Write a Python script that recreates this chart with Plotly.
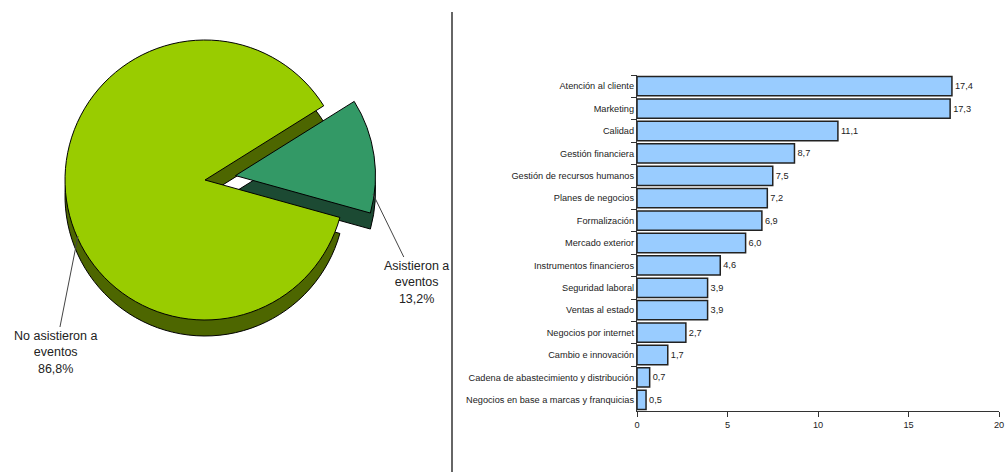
import plotly.graph_objects as go

# Pie data
pie_labels = ["Asistieron a eventos", "No asistieron a eventos"]
pie_values = [13.2, 86.8]

# Bar data
categories = ["Atención al cliente", "Marketing", "Calidad", "Gestión financiera",
              "Gestión de recursos humanos", "Planes de negocios", "Formalización",
              "Mercado exterior", "Instrumentos financieros", "Seguridad laboral",
              "Ventas al estado", "Negocios por internet", "Cambio e innovación",
              "Cadena de abastecimiento y distribución",
              "Negocios en base a marcas y franquicias"]
values = [17.4, 17.3, 11.1, 8.7, 7.5, 7.2, 6.9, 6.0, 4.6, 3.9, 3.9, 2.7, 1.7, 0.7, 0.5]
x_ticks = [0, 5, 10, 15, 20]

W, H = 1005, 472
FONT = "Liberation Sans, Arial, sans-serif"

def px_x(v):
    return v / W

def px_y(v):
    return 1 - v / H

fig = go.Figure()

# 3D-like pie: dark depth layer behind, shifted down
cx, cy, r, pull = 205, 180, 140, 0.22
half = r * (1 + pull)
depth = 16
common = dict(labels=pie_labels, values=pie_values, sort=False, direction="clockwise",
              rotation=58, pull=[pull, 0], textinfo="none", hoverinfo="label+percent",
              showlegend=False)
fig.add_trace(go.Pie(**common,
                     marker=dict(colors=["#1C4A33", "#4D6600"], line=dict(color="#000000", width=1)),
                     domain=dict(x=[px_x(cx - half), px_x(cx + half)],
                                 y=[px_y(cy + half + depth), px_y(cy - half + depth)])))
fig.add_trace(go.Pie(**common,
                     marker=dict(colors=["#339966", "#99CC00"], line=dict(color="#000000", width=1)),
                     domain=dict(x=[px_x(cx - half), px_x(cx + half)],
                                 y=[px_y(cy + half), px_y(cy - half)])))

# Bars
fig.add_trace(go.Bar(
    x=values, y=categories, orientation="h",
    marker=dict(color="#99CCFF", line=dict(color="#222222", width=1.5)),
    text=[f"{v:.1f}".replace(".", ",") for v in values],
    textposition="outside", cliponaxis=False,
    textfont=dict(family=FONT, size=9.2, color="#222222"),
    showlegend=False, xaxis="x", yaxis="y"))

fig.update_layout(
    width=W, height=H, margin=dict(l=0, r=0, t=0, b=0),
    paper_bgcolor="white", plot_bgcolor="white",
    font=dict(family=FONT, color="#222222"),
    bargap=0.14,
    xaxis=dict(domain=[637 / W, 999 / W], range=[0, 20], tickvals=x_ticks, automargin=False,
               showgrid=False, zeroline=False, showline=True, linecolor="#333333", linewidth=1.2,
               ticks="outside", ticklen=5, tickcolor="#333333",
               tickfont=dict(size=9.2, color="#222222"), anchor="y"),
    yaxis=dict(domain=[px_y(411), px_y(75)], autorange="reversed", showgrid=False, automargin=False,
               showline=True, linecolor="#333333", linewidth=1.2,
               ticks="outside", ticklen=5, tickcolor="#333333", tickson="boundaries",
               tickfont=dict(size=9.2, color="#222222"), anchor="x"),
    shapes=[dict(type="line", xref="paper", yref="paper", x0=px_x(452), x1=px_x(452),
                 y0=px_y(12), y1=0, line=dict(color="#333333", width=1.5))],
    annotations=[
        dict(xref="paper", yref="paper", x=px_x(373), y=px_y(194), ax=43, ay=88,
             text="Asistieron a<br>eventos<br>13,2%", showarrow=True, arrowhead=0,
             arrowwidth=1, arrowcolor="#444444", font=dict(size=12.5, color="#222222"),
             align="center"),
        dict(xref="paper", yref="paper", x=px_x(78), y=px_y(236), ax=-23, ay=116,
             text="No asistieron a<br>eventos<br>86,8%", showarrow=True, arrowhead=0,
             arrowwidth=1, arrowcolor="#444444", font=dict(size=12.5, color="#222222"),
             align="center"),
    ],
)

fig.write_html("out.html")
